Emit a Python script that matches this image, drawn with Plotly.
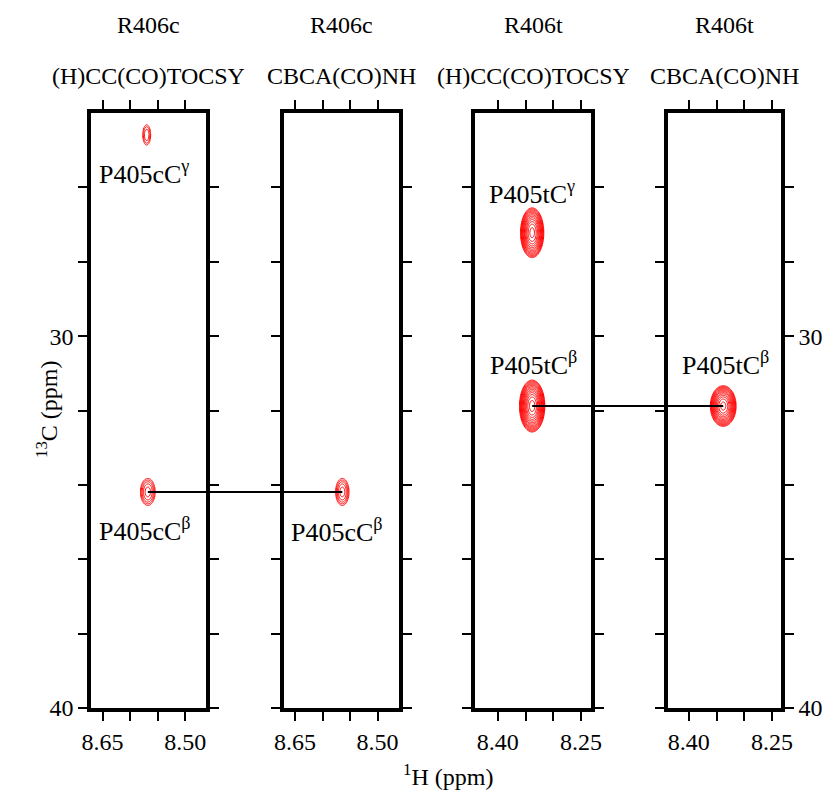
import numpy as np
import plotly.graph_objects as go

W, H = 831, 806

# ---- data ----
residues = ["R406c", "R406c", "R406t", "R406t"]
experiments = ["(H)CC(CO)TOCSY", "CBCA(CO)NH", "(H)CC(CO)TOCSY", "CBCA(CO)NH"]
h_ranges = [[8.671, 8.4625], [8.670, 8.461], [8.441, 8.232], [8.4375, 8.234]]
c_range = [40, 24]
h_major = [[8.65, 8.50], [8.65, 8.50], [8.40, 8.25], [8.40, 8.25]]
h_major_text = [["8.65", "8.50"], ["8.65", "8.50"], ["8.40", "8.25"], ["8.40", "8.25"]]
h_minor = [[8.60, 8.55], [8.60, 8.55], [8.35, 8.30], [8.35, 8.30]]
c_major = [30, 40]
c_major_text = ["30", "40"]
c_minor = [26, 28, 32, 34, 36, 38]

peak_panel = [0, 0, 1, 2, 2, 3]
peak_h = [8.570, 8.568, 8.564, 8.338, 8.338, 8.338]
peak_c = [24.59, 34.19, 34.19, 27.22, 31.88, 31.88]
peak_amp = [1.8, 2.5, 2.5, 12.0, 15.0, 12.0]
peak_wh = [0.0066, 0.0099, 0.0090, 0.0094, 0.0098, 0.0104]
peak_wc = [0.25, 0.268, 0.268, 0.30, 0.30, 0.245]

label_text = ["P405cC<sup>γ</sup>", "P405cC<sup>β</sup>", "P405cC<sup>β</sup>",
              "P405tC<sup>γ</sup>", "P405tC<sup>β</sup>", "P405tC<sup>β</sup>"]
label_h = [8.575, 8.573, 8.573, 8.339, 8.336, 8.334]
label_c = [25.59, 35.19, 35.24, 26.13, 30.73, 30.73]

links = [(1, 2), (4, 5)]

# ---- layout geometry (pixels) ----
panel_px = [(91, 206), (284, 399), (475, 591), (668, 781)]
y_px = (113, 708)
ydom = [(H - y_px[1]) / H, (H - y_px[0]) / H]
xdoms = [[a / W, b / W] for a, b in panel_px]

FONT = "Liberation Serif, Times New Roman, serif"
fig = go.Figure()

for p in range(4):
    xs = np.linspace(h_ranges[p][1], h_ranges[p][0], 220)
    ys = np.linspace(24, 40, 520)
    X, Y = np.meshgrid(xs, ys)
    Z = np.zeros_like(X)
    for i in range(len(peak_panel)):
        if peak_panel[i] != p:
            continue
        Z += peak_amp[i] * np.exp(-((X - peak_h[i]) ** 2) / (2 * peak_wh[i] ** 2)
                                  - ((Y - peak_c[i]) ** 2) / (2 * peak_wc[i] ** 2))
    Zl = np.log(Z + 1e-6)
    sfx = "" if p == 0 else str(p + 1)
    fig.add_trace(go.Contour(
        x=xs, y=ys, z=Zl, xaxis="x" + sfx, yaxis="y" + sfx,
        contours=dict(coloring="lines", start=0.0, end=np.log(16), size=np.log(1.22)),
        colorscale=[[0, "red"], [1, "red"]], showscale=False,
        line=dict(width=1), hoverinfo="skip",
    ))

layout = dict(width=W, height=H, margin=dict(l=0, r=0, t=0, b=0),
              paper_bgcolor="white", plot_bgcolor="white", showlegend=False,
              font=dict(family=FONT, color="black", size=24))

tick_style = dict(ticks="outside", ticklen=9, tickwidth=2, tickcolor="black")
for p in range(4):
    sfx = "" if p == 0 else str(p + 1)
    layout["xaxis" + sfx] = dict(
        domain=xdoms[p], range=h_ranges[p], anchor="y" + sfx,
        tickmode="array", tickvals=h_major[p], ticktext=h_major_text[p], **tick_style,
        minor=dict(tickmode="array", tickvals=h_minor[p], **tick_style),
        showline=True, linewidth=3.5, linecolor="black",
        mirror="ticks", showgrid=False, zeroline=False, automargin=False,
        tickfont=dict(family=FONT, size=24, color="black"),
    )
    layout["yaxis" + sfx] = dict(
        domain=ydom, range=c_range, anchor="x" + sfx,
        tickmode="array", tickvals=c_major, ticktext=c_major_text, **tick_style,
        minor=dict(tickmode="array", tickvals=c_minor, **tick_style),
        showline=True, linewidth=3.5, linecolor="black",
        mirror="ticks", showgrid=False, zeroline=False, automargin=False,
        showticklabels=(p in (0, 3)), side=("right" if p == 3 else "left"),
        tickfont=dict(family=FONT, size=24, color="black"),
    )

fig.update_layout(**layout)

ann = []
for p in range(4):
    xc = (xdoms[p][0] + xdoms[p][1]) / 2
    ann.append(dict(x=xc, y=1 - 25 / H, xref="paper", yref="paper", text=residues[p],
                    showarrow=False, font=dict(family=FONT, size=24, color="black"),
                    xanchor="center", yanchor="middle"))
    ann.append(dict(x=xc, y=1 - 76 / H, xref="paper", yref="paper", text=experiments[p],
                    showarrow=False, font=dict(family=FONT, size=24, color="black"),
                    xanchor="center", yanchor="middle"))

for i in range(len(label_text)):
    p = peak_panel[i]
    sfx = "" if p == 0 else str(p + 1)
    ann.append(dict(x=label_h[i], y=label_c[i], xref="x" + sfx, yref="y" + sfx,
                    text=label_text[i], showarrow=False,
                    font=dict(family=FONT, size=26, color="black"),
                    xanchor="center", yanchor="middle"))

ann.append(dict(x=448 / W, y=1 - 792 / H, xref="paper", yref="paper",
                text="<sup>1</sup>H (ppm)", showarrow=False,
                font=dict(family=FONT, size=24, color="black")))
ann.append(dict(x=30 / W, y=1 - 410 / H, xref="paper", yref="paper",
                text="<sup>13</sup>C (ppm)", showarrow=False, textangle=-90,
                font=dict(family=FONT, size=24, color="black")))
fig.update_layout(annotations=ann)


def to_paper(p, h, c):
    r0, r1 = h_ranges[p]
    d0, d1 = xdoms[p]
    px = d0 + (h - r0) / (r1 - r0) * (d1 - d0)
    py = ydom[0] + (c - c_range[0]) / (c_range[1] - c_range[0]) * (ydom[1] - ydom[0])
    return px, py


for a, b in links:
    x0, y0 = to_paper(peak_panel[a], peak_h[a], peak_c[a])
    x1, y1 = to_paper(peak_panel[b], peak_h[b], peak_c[b])
    fig.add_shape(type="line", xref="paper", yref="paper", x0=x0, y0=y0, x1=x1, y1=y0,
                  line=dict(color="black", width=2))

fig.write_html("out.html", config={"displayModeBar": False},
               post_script="document.body.style.margin='0';")
